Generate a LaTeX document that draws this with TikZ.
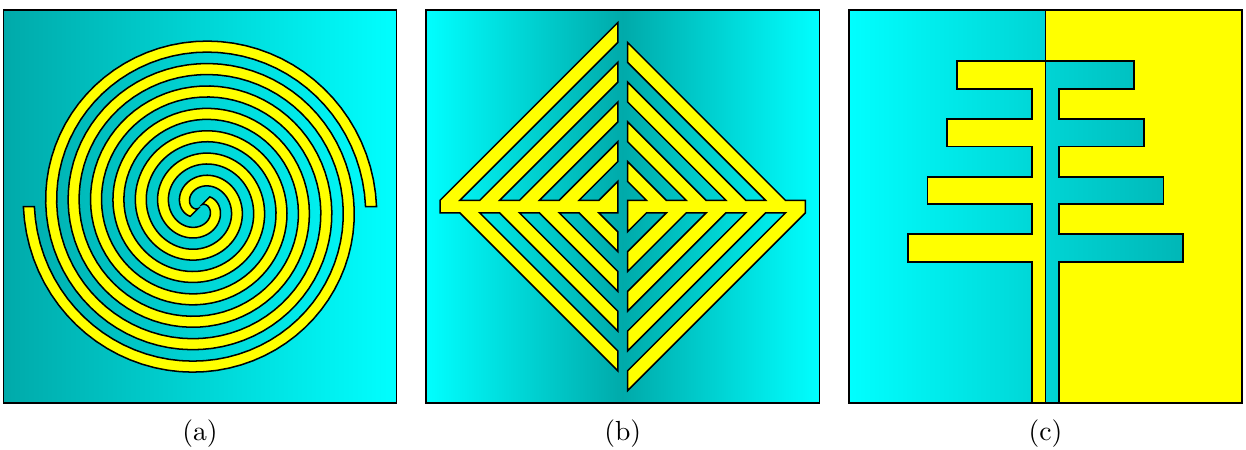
\documentclass[tikz,border=0pt]{standalone}

\definecolor{cyanbg}{RGB}{0,255,255}
\definecolor{tealbg}{RGB}{0,170,170}
\definecolor{metalyellow}{RGB}{255,255,0}

\tikzset{
  panel/.style={draw=black, line width=0.55pt},
  metal/.style={fill=metalyellow, draw=black, line width=0.55pt},
}

\begin{document}
\begin{tikzpicture}[x=0.5cm, y=0.5cm]
\useasboundingbox (-0.085,-1.178) rectangle (31.6,10.254);

% (a) double spiral
\begin{scope}
  \shade[left color=tealbg, right color=cyanbg] (0,0) rectangle (10,10);
  \foreach \rot in {0,180}
    \filldraw[metal, shift={(5,5)}]
      plot[domain=0:1305, samples=300] ({\x+\rot}:{4.491-0.0031806*\x})
      -- plot[domain=1305:0, samples=300] ({\x+\rot}:{4.211-0.0031806*\x})
      -- cycle;
  \draw[panel] (0,0) rectangle (10,10);
  \node (capa) at (5,-0.77) {(a)};
\end{scope}

% (b) diamond comb
\begin{scope}[shift={(10.75,0)}]
  \shade[left color=cyanbg, right color=cyanbg, middle color=tealbg] (0,0) rectangle (10,10);
  \foreach \rot in {0,180}
    \filldraw[metal, rotate around={\rot:(5,5)}] (0.356,4.84)
      \foreach \xi in {0.356,1.366,2.376,3.386} {
        -- (\xi,5.16) -- (4.875,{10.035-\xi}) -- (4.875,{9.53-\xi}) -- ({\xi+0.505},5.16) }
      -- (4.396,5.16) -- (4.875,5.639) -- (4.875,4.84)
      \foreach \xi in {3.386,2.376,1.366,0.356} {
        -- ({\xi+1.01},4.84) -- (4.875,{0.975+\xi}) -- (4.875,{0.47+\xi}) -- ({\xi+0.505},4.84) }
      -- cycle;
  \draw[panel] (0,0) rectangle (10,10);
  \node (capb) at (5,-0.77) {(b)};
\end{scope}

% (c) finger comb
\begin{scope}[shift={(21.5,0)}, line width=0.65pt]
  \shade[left color=cyanbg, right color=tealbg] (0,0) rectangle (10,10);
  \filldraw[metal, line width=0.65pt] (5,10) -- (10,10) -- (10,0) -- (5.35,0)
    \foreach \yb/\xr in {3.6/8.5,5.06/8,6.53/7.5,8/7.25} {
      -- (5.35,\yb) -- (\xr,\yb) -- (\xr,{\yb+0.7}) -- (5.35,{\yb+0.7}) }
    -- (5,8.7) -- cycle;
  \filldraw[metal, line width=0.65pt] (5,0) -- (4.65,0)
    \foreach \yb/\xl in {3.6/1.5,5.06/2,6.53/2.5,8/2.75} {
      -- (4.65,\yb) -- (\xl,\yb) -- (\xl,{\yb+0.7}) -- (4.65,{\yb+0.7}) }
    -- (5,8.7) -- cycle;
  \draw[panel, line width=0.65pt] (0,0) rectangle (10,10);
  \node (capc) at (5,-0.77) {(c)};
\end{scope}
\end{tikzpicture}
\end{document}
